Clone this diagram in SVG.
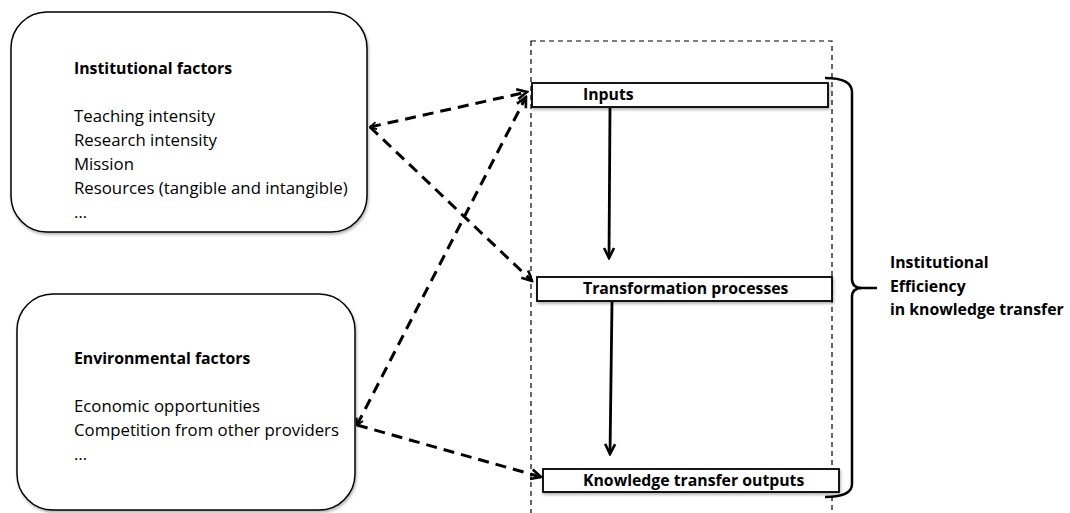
<svg xmlns="http://www.w3.org/2000/svg" width="1070" height="513" viewBox="0 0 1070 513">
<style>
text{font-family:"Open Sans","Liberation Sans",sans-serif;fill:#000}
.t{font-size:16.8px}
.b{font-size:15.8px;font-weight:bold}
.rbox{fill:#fff;stroke:#000;stroke-width:1.5}
.sbox{fill:#fff;stroke:#000;stroke-width:1.8}
.dash{fill:none;stroke:#000;stroke-width:3;stroke-dasharray:11 7}
.solid{fill:none;stroke:#000;stroke-width:2.8}
</style>
<defs>
<filter id="sh" x="-10%" y="-10%" width="120%" height="130%">
<feGaussianBlur in="SourceAlpha" stdDeviation="1.5"/>
<feOffset dx="1" dy="2" result="o"/>
<feComponentTransfer><feFuncA type="linear" slope="0.3"/></feComponentTransfer>
<feMerge><feMergeNode/><feMergeNode in="SourceGraphic"/></feMerge>
</filter>
<marker id="ah" viewBox="0 0 14 14" refX="12" refY="7" markerWidth="14" markerHeight="14" orient="auto-start-reverse" markerUnits="userSpaceOnUse">
<path d="M2,2 L12,7 L2,12" fill="none" stroke="#000" stroke-width="2.6" stroke-dasharray="none"/>
</marker>
<marker id="ahs" viewBox="0 0 14 14" refX="12" refY="7" markerWidth="10" markerHeight="10" orient="auto-start-reverse" markerUnits="userSpaceOnUse">
<path d="M3,2 L12,7 L3,12" fill="none" stroke="#000" stroke-width="2.5" stroke-dasharray="none"/>
</marker>
</defs>

<g id="container">
<rect x="531" y="41" width="301" height="480" fill="none" stroke="#000" stroke-width="1.2" stroke-dasharray="5 4"/>
</g>

<g id="institutional">
<rect class="rbox" x="11" y="12" width="356" height="220" rx="36" filter="url(#sh)"/>
<text class="b" x="74" y="74">Institutional factors</text>
<text class="t" x="74" y="122">Teaching intensity</text>
<text class="t" x="74" y="146">Research intensity</text>
<text class="t" x="74" y="170">Mission</text>
<text class="t" x="74" y="194">Resources (tangible and intangible)</text>
<text class="t" x="74" y="218">…</text>
</g>

<g id="environmental">
<rect class="rbox" x="17" y="294" width="338" height="216" rx="36" filter="url(#sh)"/>
<text class="b" x="74" y="364">Environmental factors</text>
<text class="t" x="74" y="412">Economic opportunities</text>
<text class="t" x="74" y="436">Competition from other providers</text>
<text class="t" x="74" y="460">…</text>
</g>

<g id="inputs">
<rect class="sbox" x="532" y="83" width="296" height="24" filter="url(#sh)"/>
<text class="b" x="583" y="100">Inputs</text>
</g>

<g id="transformation">
<rect class="sbox" x="537" y="277" width="295" height="24" filter="url(#sh)"/>
<text class="b" x="583" y="294">Transformation processes</text>
</g>

<g id="outputs">
<rect class="sbox" x="543" y="469" width="296" height="23" filter="url(#sh)"/>
<text class="b" x="583" y="486">Knowledge transfer outputs</text>
</g>

<g id="efficiency">
<path d="M825,78 Q852,78 852,92 L852,279 Q852,288 862,288 L877,288 M862,288 Q852,288 852,297 L852,484 Q852,497 825,497" fill="none" stroke="#000" stroke-width="2.5"/>
<text class="b" x="890" y="268">Institutional</text>
<text class="b" x="890" y="292">Efficiency</text>
<text class="b" x="890" y="315">in knowledge transfer</text>
</g>

<g id="connectors">
<path class="dash" d="M370,127 L527,92" marker-end="url(#ah)" marker-start="url(#ahs)"/>
<path class="dash" d="M370,127 L532,281" marker-end="url(#ah)"/>
<path class="dash" d="M357,425 L526,97" marker-end="url(#ah)" marker-start="url(#ahs)"/>
<path class="dash" d="M357,425 L541,477" marker-end="url(#ah)"/>
<path class="solid" d="M610,108 L609,258" marker-end="url(#ah)"/>
<path class="solid" d="M612,302 L610,454" marker-end="url(#ah)"/>
</g>
</svg>
